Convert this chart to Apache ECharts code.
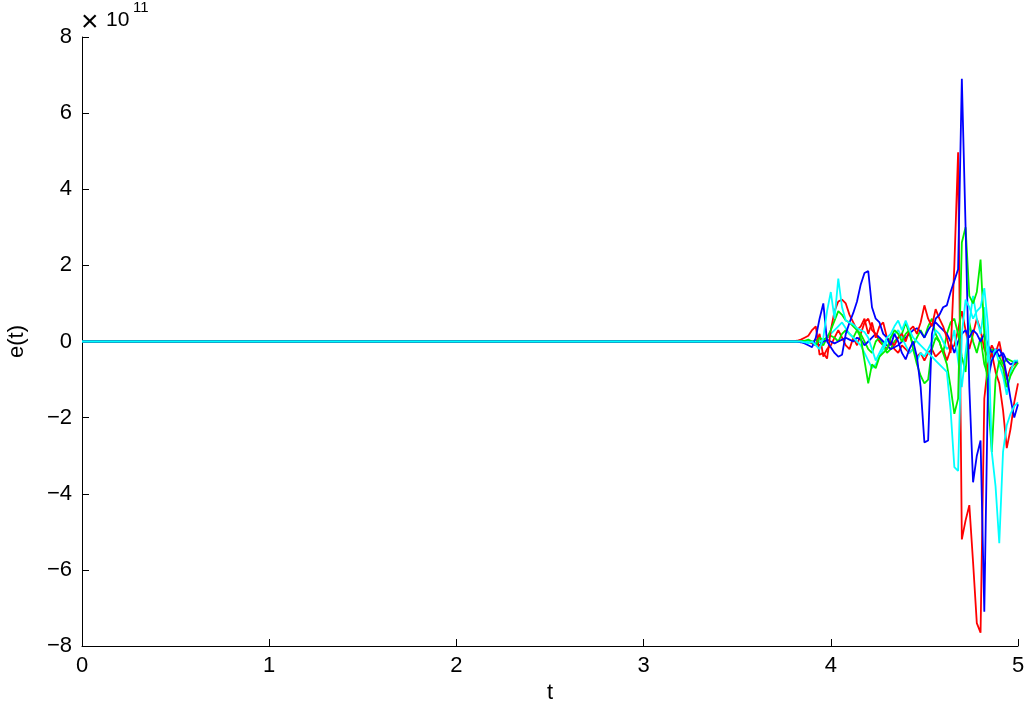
<!DOCTYPE html>
<html>
<head>
<meta charset="utf-8">
<title>e(t)</title>
<script src="https://cdn.jsdelivr.net/npm/echarts@6/dist/echarts.min.js"></script>
<style>
  html, body { margin: 0; padding: 0; background: #fff; }
  #chart { width: 1024px; height: 704px; }
</style>
</head>
<body>
<div id="chart"></div>
<script>
// time samples where the error trajectories leave zero (before 3.8 all are 0)
const tTail = [
  3.80, 3.82, 3.84, 3.86, 3.88, 3.90, 3.92, 3.94, 3.96, 3.98,
  4.00, 4.02, 4.04, 4.06, 4.08, 4.10, 4.12, 4.14, 4.16, 4.18,
  4.20, 4.22, 4.24, 4.26, 4.28, 4.30, 4.32, 4.34, 4.36, 4.38,
  4.40, 4.42, 4.44, 4.46, 4.48, 4.50, 4.52, 4.54, 4.56, 4.58,
  4.60, 4.62, 4.64, 4.66, 4.68, 4.70, 4.72, 4.74, 4.76, 4.78,
  4.80, 4.82, 4.84, 4.86, 4.88, 4.90, 4.92, 4.94, 4.96, 4.98, 5.00
]

// values in units of 1e11
const red1 = [
  0, 0.02, 0.05, 0.1, 0.15, 0.3, 0.4, -0.35, -0.3, -0.45,
  0.3, 0.8, 1.05, 1.1, 1.0, 0.7, 0.5, 0.3, 0.4, 0.6,
  0.2, 0.5, 0.1, 0.4, 0.5, 0.1, 0.0, -0.1, 0.1, 0.2,
  0.0, 0.3, 0.4, 0.2, 0.5, 0.95, 0.6, 0.4, 0.85, 0.6,
  0.4, 0.1, -0.3, 2.0, 4.97, -5.2, -4.7, -4.3, -5.8, -7.4,
  -7.65, -1.5, -0.6, -0.3, -0.8, -1.1, -1.8, -2.8, -2.3, -1.6, -1.1
]
const green1 = [
  0, 0, 0, 0.02, 0.05, 0.0, -0.1, 0.1, 0.05, 0.1,
  0.3, 0.55, 0.8, 0.7, 0.55, 0.5, 0.4, 0.3, 0.1, -0.5,
  -1.1, -0.6, -0.7, -0.4, -0.3, -0.2, 0.1, 0.3, 0.2, 0.0,
  0.2, 0.3, -0.2, -0.6, -0.9, -1.1, -1.0, -0.2, 0.1, 0.0,
  -0.3, -0.6, -1.2, -1.9, -1.5, 2.6, 3.0, 1.2, 1.0, 1.3,
  2.15, 0.2, -1.5, -2.9, -1.0, -0.5, -0.7, -1.2, -0.9, -0.7, -0.55
]
const blue1 = [
  0, 0, -0.02, -0.05, -0.1, -0.15, 0.1, 0.6, 1.0, 0.0,
  -0.15, -0.3, -0.4, -0.35, 0.2, 0.5, 0.75, 1.05, 1.5, 1.8,
  1.85, 0.9, 0.6, 0.5, 0.2, 0.1, -0.1, 0.2, 0.0, -0.3,
  -0.47, -0.2, 0.0, -0.4, -1.2, -2.65, -2.6, 0.2, 0.6, 0.7,
  0.9, 0.95, 1.3, 1.6, 1.9, 6.9, 3.0, -1.2, -3.7, -3.0,
  -2.6, -7.1, -1.0, -0.5, -0.3, -0.2, -0.4, -0.9, -1.5, -2.0, -1.65
]
const cyan1 = [
  0, 0, 0, -0.02, -0.05, 0.0, -0.1, -0.2, 0.1, 0.8,
  1.3, 0.6, 1.65, 0.9, 0.55, 0.5, 0.45, 0.35, 0.3, 0.25,
  0.1, -0.2, -0.5, -0.3, -0.1, 0.1, 0.2, 0.4, 0.55, 0.3,
  0.55, 0.3, 0.1, 0.0, -0.1, -0.2, -0.3, -0.4, -0.5, -0.6,
  -0.7, -0.8, -1.8, -3.3, -3.4, 0.2, 1.1, 0.9, 0.6, 0.8,
  0.9, 1.4, 0.4, -2.9, -3.8, -5.3, -2.9, -2.2, -1.9, -1.7, -1.6
]
const red2 = [
  0, 0, 0, 0, -0.02, -0.05, -0.1, 0.2, -0.4, -0.2,
  -0.1, 0.1, 0.3, 0.1, -0.1, -0.2, 0.1, -0.1, 0.2, 0.5,
  0.6, 0.3, 0.2, 0.0, -0.1, -0.2, 0.0, -0.2, -0.3, -0.1,
  -0.2, -0.3, -0.2, -0.4, -0.3, -0.5, -0.3, -0.2, -0.4, -0.3,
  -0.2, -0.5, -0.2, -0.1, 0.3, 0.8, 0.3, -0.2, 0.2, 0.6,
  0.3, -0.2, -0.4, -0.1, -0.3, 0.0, -0.5, -1.0, -0.7, -0.6, -0.55
]
const green2 = [
  0, 0, 0, 0, 0, -0.02, 0.05, 0.0, -0.1, 0.1,
  0.15, 0.1, 0.0, 0.2, 0.3, 0.2, 0.1, 0.3, 0.2, 0.0,
  -0.2, -0.3, 0.0, 0.1, -0.1, -0.3, -0.2, 0.0, 0.1, 0.2,
  0.5, 0.2, -0.1, 0.1, 0.3, 0.1, 0.4, 0.6, 0.2, 0.0,
  -0.3, 0.2, 0.5, 0.6, 0.2, -0.4, -0.8, 0.5, 0.0, -0.3,
  0.1, -0.6, -0.9, -0.2, -0.3, -0.4, -0.6, -0.45, -0.5, -0.55, -0.5
]
const blue2 = [
  0, 0, 0, 0, 0, 0, -0.05, -0.1, 0.0, 0.05,
  0.0, -0.05, 0.0, 0.05, 0.1, 0.05, 0.0, 0.1, 0.05, -0.1,
  0.0, 0.1, 0.2, 0.1, 0.0, -0.1, -0.2, -0.15, -0.1, 0.0,
  0.1, 0.2, 0.3, 0.35, 0.25, 0.1, 0.3, 0.45, 0.5, 0.4,
  0.3, 0.2, 0.0, -0.3, 0.0, 0.2, 0.3, 0.1, 0.3, 0.2,
  0.0, 0.2, -0.1, -0.3, -0.2, -0.4, -0.3, -0.5, -0.6, -0.55, -0.55
]
const cyan2 = [
  0, 0, 0, 0, 0, -0.02, -0.05, 0.0, 0.05, 0.1,
  0.2, 0.3, 0.4, 0.5, 0.35, 0.2, 0.1, 0.0, -0.1, -0.3,
  -0.5, -0.7, -0.6, -0.4, -0.2, 0.0, 0.1, 0.2, 0.3, 0.1,
  -0.1, -0.3, -0.2, -0.5, -0.3, -0.4, -0.2, 0.0, 0.3, 0.2,
  0.0, -0.2, -0.1, 0.3, -0.5, -1.2, -0.3, 0.5, 1.2, 0.6,
  0.2, 0.9, -0.6, -0.4, -0.2, -0.6, -0.9, -1.4, -0.8, -0.5, -0.5
]

const xTicks = [0, 1, 2, 3, 4, 5]
const yTicks = [-8, -6, -4, -2, 0, 2, 4, 6, 8]

const seriesDefs = [
  { name: 'e1', color: '#ff0000', values: red2 },
  { name: 'e2', color: '#00ee00', values: green2 },
  { name: 'e3', color: '#0000ff', values: blue2 },
  { name: 'e4', color: '#00ffff', values: cyan2 },
  { name: 'e5', color: '#ff0000', values: red1 },
  { name: 'e6', color: '#00ee00', values: green1 },
  { name: 'e7', color: '#0000ff', values: blue1 },
  { name: 'e8', color: '#00ffff', values: cyan1 }
]

const font = 'Liberation Sans, Arial, sans-serif'
const chart = echarts.init(document.getElementById('chart'))

const toPoints = (values) => [[0, 0]].concat(tTail.map((t, i) => [t, values[i]]))

// exponent label "× 10^11" above the y axis, drawn as three text pieces
const expText = (text, x, y, size) => ({
  type: 'text',
  x: x,
  y: y,
  style: { text: text, fontFamily: font, fontSize: size, fill: '#000', verticalAlign: 'middle' }
})

const option = {
  animation: false,
  backgroundColor: '#fff',
  grid: { left: 82, right: 6, top: 37, bottom: 58, outerBoundsMode: 'none', containLabel: false },
  xAxis: {
    type: 'value',
    min: xTicks[0],
    max: xTicks[xTicks.length - 1],
    interval: 1,
    name: 't',
    nameLocation: 'middle',
    nameGap: 34,
    nameTextStyle: { fontFamily: font, fontSize: 22, color: '#000' },
    axisLine: { onZero: false, lineStyle: { color: '#000', width: 1 } },
    axisTick: { inside: true, length: 7, lineStyle: { color: '#000' } },
    axisLabel: { fontFamily: font, fontSize: 22, color: '#000', margin: 9 },
    splitLine: { show: false }
  },
  yAxis: {
    type: 'value',
    min: yTicks[0],
    max: yTicks[yTicks.length - 1],
    interval: 2,
    name: 'e(t)',
    nameLocation: 'middle',
    nameGap: 54,
    nameTextStyle: { fontFamily: font, fontSize: 22, color: '#000' },
    axisLine: { show: true, onZero: false, lineStyle: { color: '#000', width: 1 } },
    axisTick: { show: true, inside: true, length: 7, lineStyle: { color: '#000' } },
    axisLabel: {
      fontFamily: font, fontSize: 22, color: '#000', margin: 10,
      formatter: (v) => String(v).replace('-', '\u2212')
    },
    splitLine: { show: false }
  },
  graphic: [
    expText('\u00d7', 81, 23, 30),
    expText('10', 106, 20, 21),
    expText('11', 133, 8, 15)
  ],
  series: seriesDefs.map((s) => ({
    name: s.name,
    type: 'line',
    data: toPoints(s.values),
    showSymbol: false,
    symbol: 'none',
    lineStyle: { color: s.color, width: 1.8 },
    itemStyle: { color: s.color }
  }))
}

chart.setOption(option)
window.addEventListener('resize', () => chart.resize())
</script>
</body>
</html>
